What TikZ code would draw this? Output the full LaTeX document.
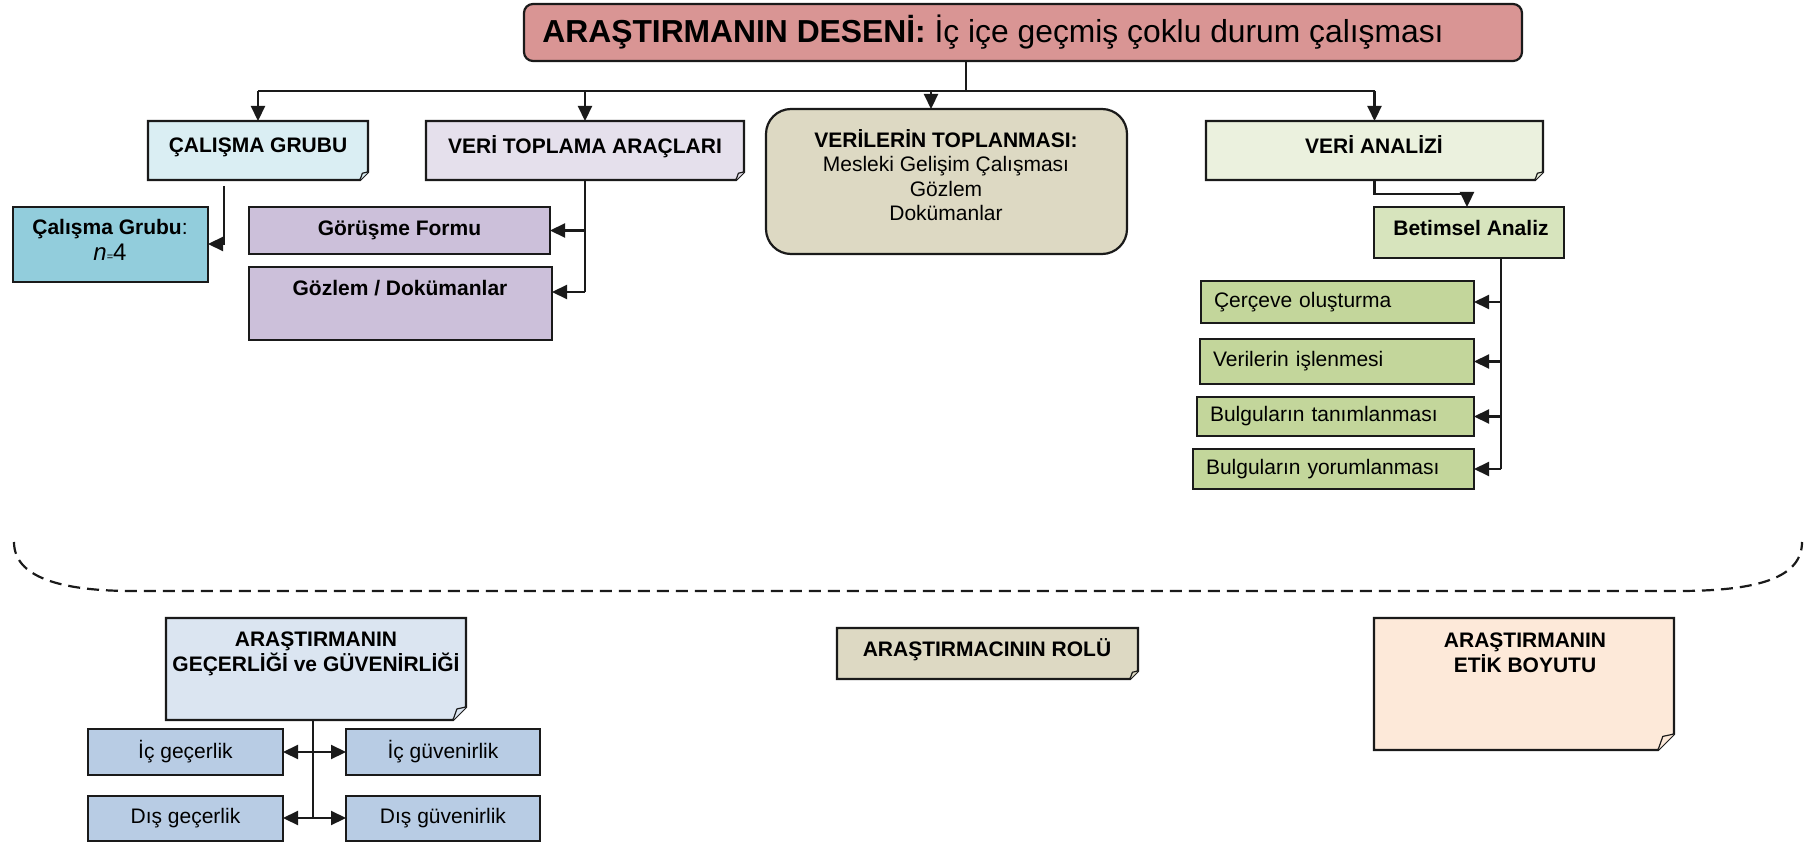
\documentclass[tikz,border=0pt]{standalone}
\usepackage{fontspec}
\setmainfont{Liberation Sans}
\usetikzlibrary{arrows.meta}
\pgfdeclarelayer{bg}
\pgfsetlayers{bg,main}
\definecolor{bord}{HTML}{1A1A1A}
\definecolor{cTitle}{HTML}{D99594}
\definecolor{cCG}{HTML}{DAEEF3}
\definecolor{cVTA}{HTML}{E5E0EC}
\definecolor{cVTAs}{HTML}{CCC0DA}
\definecolor{cVT}{HTML}{DDD9C3}
\definecolor{cVA}{HTML}{EBF1DE}
\definecolor{cBA}{HTML}{D7E4BD}
\definecolor{cStep}{HTML}{C3D69B}
\definecolor{cN}{HTML}{92CDDC}
\definecolor{cGG}{HTML}{DBE5F1}
\definecolor{cGGs}{HTML}{B8CCE4}
\definecolor{cEtk}{HTML}{FDE9D9}
\tikzset{
  bx/.style={draw=bord, line width=2.2pt, inner sep=0pt, outer sep=0pt,
    font=\fontsize{21}{24.5}\selectfont, align=center},
  fb/.style={draw=none, line width=2.2pt, inner sep=0pt, outer sep=0pt,
    font=\fontsize{21}{24.5}\selectfont, align=center},
  txt/.style={font=\fontsize{21}{24.5}\selectfont, align=center, inner sep=0pt},
  ln/.style={draw=bord, line width=2.2pt},
  arr/.style={draw=bord, line width=2.2pt, -{Triangle[length=15pt,width=14pt]}},
  dsh/.style={draw=bord, line width=2.2pt, dash pattern=on 12pt off 7pt}
}
\newcommand\bx[7]{\node[#6, minimum width={#4-#2}, minimum height={#5-#3}] (#1) at ({(#2+#4)/2},{(#3+#5)/2}) {#7};}
\newcommand\foldit[3]{%
\begin{pgfonlayer}{bg}
\filldraw[fill=#2, draw=bord, line width=2.2pt, line join=miter] (#1.north west) -- (#1.north east) -- ([yshift=#3pt]#1.south east) -- ([xshift=-#3pt]#1.south east) -- (#1.south west) -- cycle;
\filldraw[fill=#2, draw=bord, line width=1.2pt, line join=round] ([xshift=-#3pt]#1.south east) -- ([xshift=-0.7*#3pt, yshift=0.85*#3pt]#1.south east) -- ([yshift=#3pt]#1.south east);
\end{pgfonlayer}}
\begin{document}
\begin{tikzpicture}[x=1pt, y=-1pt]
\useasboundingbox (0,0) rectangle (1810,842);
% title
\bx{title}{524}{4}{1522}{61}{bx, fill=cTitle, rounded corners=9pt}{}
\node[inner sep=0pt, font=\fontsize{31.8}{36}\selectfont] (titlet) at (993,32) {\textbf{ARAŞTIRMANIN DESENİ:} İç içe geçmiş çoklu durum çalışması};
% top row
\bx{cg}{148}{121}{368}{180}{fb}{}
\foldit{cg}{cCG}{8}
\node[txt] (cgt) at (258,147) {\textbf{ÇALIŞMA GRUBU}};
\bx{vta}{426}{121}{744}{180}{fb}{}
\foldit{vta}{cVTA}{8}
\node[txt] (vtat) at (585,147) {\textbf{VERİ TOPLAMA ARAÇLARI}};
\bx{vt}{766}{109}{1127}{254}{bx, fill=cVT, rounded corners=25pt}{}
\node[txt] (vtt) at (946,175) {\textbf{VERİLERİN TOPLANMASI:}\\Mesleki Gelişim Çalışması\\Gözlem\\Dokümanlar};
\bx{va}{1206}{121}{1543}{180}{fb}{}
\foldit{va}{cVA}{8}
\node[txt] (vat) at (1374,145) {\textbf{VERİ ANALİZİ}};
% second level
\bx{n4}{13}{207}{208}{282}{bx, fill=cN}{}
\node[txt] (n4t) at (110,240) {\textbf{Çalışma Grubu}:\\[2pt]{\fontsize{24}{28}\selectfont\textit{n}{\fontsize{11}{11}\selectfont=}4}};
\bx{gf}{249}{207}{550}{254}{bx, fill=cVTAs}{\textbf{Görüşme Formu}}
\bx{gd}{249}{267}{552}{340}{bx, fill=cVTAs}{}
\node[txt] (gdt) at (400,288) {\textbf{Gözlem / Dokümanlar}};
\bx{ba}{1374}{207}{1564}{258}{bx, fill=cBA}{}
\node[txt] (bat2) at (1471,228) {\textbf{Betimsel Analiz}};
\bx{c1}{1201}{281}{1474}{323}{bx, fill=cStep, align=left, text width=247pt}{Çerçeve oluşturma}
\bx{c2}{1200}{339}{1474}{384}{bx, fill=cStep, align=left, text width=248pt}{Verilerin işlenmesi}
\bx{c3}{1197}{397}{1474}{436}{bx, fill=cStep, align=left, text width=251pt}{Bulguların tanımlanması}
\bx{c4}{1193}{449}{1474}{489}{bx, fill=cStep, align=left, text width=255pt}{Bulguların yorumlanması}
% connectors top
\coordinate (tj) at (966,91);
\coordinate (vtc) at (931,91);
\draw[ln] (title.south -| tj) -- (tj);
\draw[ln] (cg.north |- tj) -- (va.north |- tj);
\draw[arr] (cg.north |- tj) -- (cg.north);
\draw[arr] (vta.north |- tj) -- (vta.north);
\draw[arr] (vtc) -- (vt.north -| vtc);
\draw[arr] (va.north |- tj) -- (va.north);
\coordinate (cgd) at (224,244);
\draw[arr, shorten <=6pt] (cg.south -| cgd) -- (cgd) -- (n4.east |- cgd);
\coordinate (vtd) at (585,292);
\draw[ln] (vta.south) -- (vtd);
\draw[arr] (gf.east -| vtd) -- (gf.east);
\draw[arr] (vtd) -- (gd.east |- vtd);
\coordinate (vab) at (1467,194);
\draw[arr] (va.south) |- (vab) -- (ba.north -| vab);
\coordinate (bat) at (1501,469);
\draw[ln] (ba.south -| bat) -- (bat);
\draw[arr] (c1.east -| bat) -- (c1.east);
\draw[arr] (c2.east -| bat) -- (c2.east);
\draw[arr] (c3.east -| bat) -- (c3.east);
\draw[arr] (bat) -- (c4.east |- bat);
% dashed separator
\draw[dsh] (14,542) .. controls (14,577) and (60,591) .. (133,591) -- (1678,591) .. controls (1760,591) and (1802,577) .. (1802,542);
% bottom
\bx{gg}{166}{618}{466}{720}{fb}{}
\foldit{gg}{cGG}{13}
\node[txt] (ggt) at (316,654) {\textbf{ARAŞTIRMANIN}\\\textbf{GEÇERLİĞİ ve GÜVENİRLİĞİ}};
\bx{ig}{88}{729}{283}{775}{bx, fill=cGGs}{İç geçerlik}
\bx{igv}{346}{729}{540}{775}{bx, fill=cGGs}{İç güvenirlik}
\bx{dg}{88}{796}{283}{841}{bx, fill=cGGs}{Dış geçerlik}
\bx{dgv}{346}{796}{540}{841}{bx, fill=cGGs}{Dış güvenirlik}
\coordinate (ggt2) at (313,818);
\draw[ln] (gg.south -| ggt2) -- (ggt2);
\draw[arr] (ig.east -| ggt2) -- (ig.east);
\draw[arr] (igv.west -| ggt2) -- (igv.west);
\draw[arr] (ggt2) -- (dg.east |- ggt2);
\draw[arr] (ggt2) -- (dgv.west |- ggt2);
\bx{rol}{837}{628}{1138}{679}{fb}{}
\foldit{rol}{cVT}{8}
\node[txt] (rolt) at (987,650) {\textbf{ARAŞTIRMACININ ROLÜ}};
\bx{etk}{1374}{618}{1674}{750}{fb}{}
\foldit{etk}{cEtk}{16}
\node[txt] (etkt) at (1525,653) {\textbf{ARAŞTIRMANIN}\\\textbf{ETİK BOYUTU}};
\end{tikzpicture}
\end{document}
